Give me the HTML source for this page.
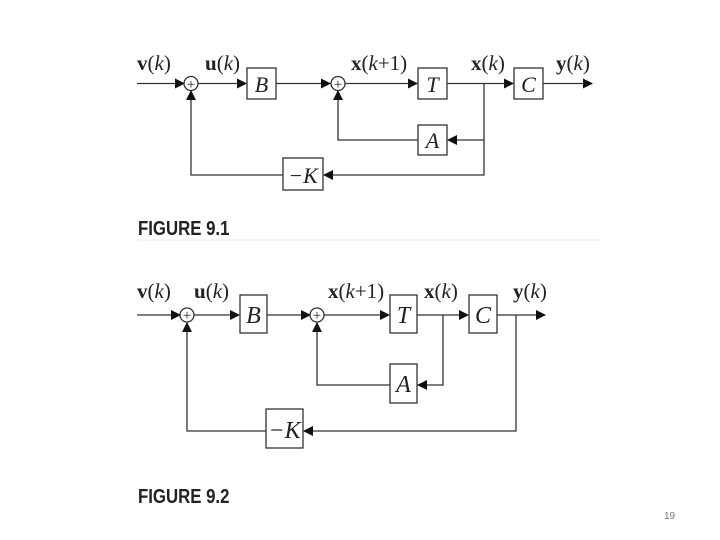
<!DOCTYPE html>
<html><head><style>
body{margin:0;background:#fff;width:720px;height:540px;overflow:hidden}
svg{position:absolute;left:0;top:0}
.m{font-family:"Liberation Serif",serif;font-size:21px;fill:#222}
.b{font-weight:bold;font-style:normal}
.i{font-style:italic}
.f{font-family:"Liberation Sans",sans-serif;font-weight:bold;font-size:20px;fill:#222}
</style></head><body>
<svg width="720" height="540" viewBox="0 0 720 540">
<defs><marker id="a" markerWidth="10" markerHeight="10" refX="9" refY="5" orient="auto" markerUnits="userSpaceOnUse"><path d="M0,0 L10,5 L0,10z" fill="#111"/></marker></defs>
<g stroke="#333" stroke-width="1.3" fill="none">
<line x1="137" y1="83.5" x2="184" y2="83.5" marker-end="url(#a)"/>
<circle cx="191" cy="83.5" r="7"/>
<line x1="198" y1="83.5" x2="246" y2="83.5" marker-end="url(#a)"/>
<rect x="247" y="68" width="29" height="31"/>
<line x1="276" y1="83.5" x2="330" y2="83.5" marker-end="url(#a)"/>
<circle cx="338" cy="83.5" r="7"/>
<line x1="345" y1="83.5" x2="417" y2="83.5" marker-end="url(#a)"/>
<rect x="418" y="68" width="29" height="31"/>
<line x1="447" y1="83.5" x2="513" y2="83.5" marker-end="url(#a)"/>
<rect x="514" y="68" width="29" height="31"/>
<line x1="543" y1="83.5" x2="592" y2="83.5" marker-end="url(#a)"/>
<polyline points="484,83.5 484,175 324,175" marker-end="url(#a)"/>
<line x1="484" y1="140" x2="448" y2="140" marker-end="url(#a)"/>
<rect x="418" y="125" width="29" height="30"/>
<polyline points="418,140 338,140 338,91" marker-end="url(#a)"/>
<rect x="283" y="158" width="40" height="32"/>
<polyline points="283,175 191,175 191,91" marker-end="url(#a)"/>
<line x1="137" y1="315" x2="180" y2="315" marker-end="url(#a)"/>
<circle cx="187" cy="315" r="7"/>
<line x1="194" y1="315" x2="239" y2="315" marker-end="url(#a)"/>
<rect x="240" y="295" width="27" height="38"/>
<line x1="267" y1="315" x2="310" y2="315" marker-end="url(#a)"/>
<circle cx="317" cy="315" r="7"/>
<line x1="324" y1="315" x2="389" y2="315" marker-end="url(#a)"/>
<rect x="390" y="295" width="27" height="38"/>
<line x1="417" y1="315" x2="468" y2="315" marker-end="url(#a)"/>
<rect x="469" y="295" width="28" height="38"/>
<line x1="497" y1="315" x2="545" y2="315" marker-end="url(#a)"/>
<polyline points="443,315 443,385 418,385" marker-end="url(#a)"/>
<rect x="390" y="364" width="27" height="39"/>
<polyline points="390,385 317,385 317,323" marker-end="url(#a)"/>
<polyline points="516,315 516,431 304,431" marker-end="url(#a)"/>
<rect x="266" y="409" width="37" height="39"/>
<polyline points="266,431 187,431 187,323" marker-end="url(#a)"/>
</g>
<g class="m" text-anchor="middle">
<text x="191" y="89" font-size="15">+</text><text x="338" y="89" font-size="15">+</text>
<text x="187" y="320" font-size="15">+</text><text x="317" y="320" font-size="15">+</text>
<text x="261.5" y="92" class="i" font-size="22">B</text><text x="432.5" y="92" class="i" font-size="22">T</text><text x="528.5" y="92" class="i" font-size="22">C</text>
<text x="432.5" y="148" class="i" font-size="22">A</text><text x="303" y="183" class="i" font-size="22">−K</text>
<text x="253.5" y="323" class="i" font-size="24">B</text><text x="403.5" y="323" class="i" font-size="24">T</text><text x="483" y="323" class="i" font-size="24">C</text>
<text x="403.5" y="392" class="i" font-size="24">A</text><text x="284.5" y="438" class="i" font-size="24">−K</text>
</g>
<g class="m">
<text x="137" y="70"><tspan class="b">v</tspan>(<tspan class="i">k</tspan>)</text>
<text x="205" y="70"><tspan class="b">u</tspan>(<tspan class="i">k</tspan>)</text>
<text x="351" y="70"><tspan class="b">x</tspan>(<tspan class="i">k</tspan>+1)</text>
<text x="471" y="70"><tspan class="b">x</tspan>(<tspan class="i">k</tspan>)</text>
<text x="556" y="70"><tspan class="b">y</tspan>(<tspan class="i">k</tspan>)</text>
<text x="137" y="298"><tspan class="b">v</tspan>(<tspan class="i">k</tspan>)</text>
<text x="194" y="298"><tspan class="b">u</tspan>(<tspan class="i">k</tspan>)</text>
<text x="328" y="298"><tspan class="b">x</tspan>(<tspan class="i">k</tspan>+1)</text>
<text x="424" y="298"><tspan class="b">x</tspan>(<tspan class="i">k</tspan>)</text>
<text x="513" y="298"><tspan class="b">y</tspan>(<tspan class="i">k</tspan>)</text>
</g>
<text class="f" x="138" y="235" transform="translate(138 0) scale(0.84 1) translate(-138 0)">FIGURE 9.1</text>
<text class="f" x="138" y="503" transform="translate(138 0) scale(0.84 1) translate(-138 0)">FIGURE 9.2</text>
<line x1="138" y1="240" x2="600" y2="240" stroke="#eee" stroke-width="1"/>
<text x="664" y="519" font-family="Liberation Sans,sans-serif" font-size="10" fill="#777">19</text>
</svg>
</body></html>
